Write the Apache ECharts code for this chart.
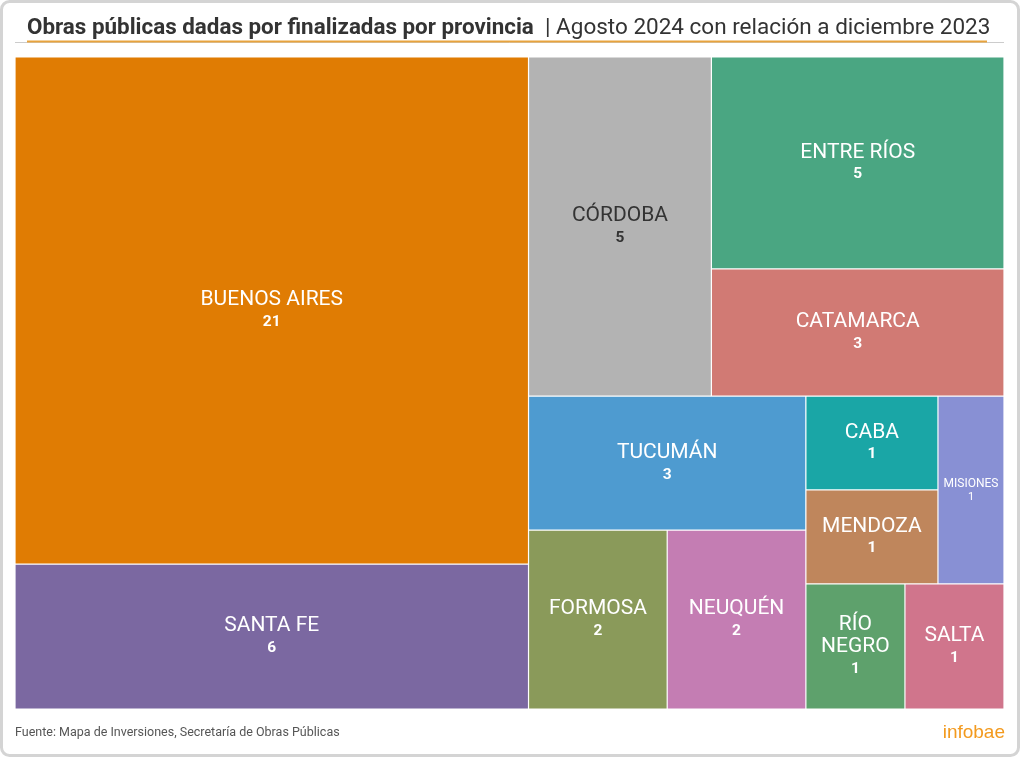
<!DOCTYPE html>
<html>
<head>
<meta charset="utf-8">
<script src="https://cdn.jsdelivr.net/npm/echarts@6/dist/echarts.min.js"></script>
<style>
html,body{margin:0;padding:0;background:#fff;}
#chart{width:1020px;height:757px;}
</style>
</head>
<body>
<div id="chart"></div>
<script>
// ---- Data ----
const provinces = ['BUENOS AIRES','SANTA FE','CÓRDOBA','ENTRE RÍOS','CATAMARCA','TUCUMÁN','FORMOSA','NEUQUÉN','CABA','MENDOZA','MISIONES','RÍO NEGRO','SALTA'];
const values = [21, 6, 5, 5, 3, 3, 2, 2, 1, 1, 1, 1, 1];
const colors = ['#E07C03','#7B68A1','#B3B3B3','#4AA682','#D17A74','#4E9BD0','#8A9A5A','#C47DB3','#1AA6A6','#BF865C','#8890D4','#5EA16C','#D0758C'];
// binary-split grouping of the province indices (structure of the treemap)
const nesting = [[0, 1], [[2, [3, 4]], [[5, [6, 7]], [[[8, 9], 10], [11, 12]]]]];

const titleBold = 'Obras públicas dadas por finalizadas por provincia';
const titleRest = '| Agosto 2024 con relación a diciembre 2023';
const source = 'Fuente: Mapa de Inversiones, Secretaría de Obras Públicas';
const brand = 'infobae';

const FONT = 'Roboto, "Noto Sans", sans-serif';
const LABEL_PAD = 4;

function nameLines(name) {
  return name === 'RÍO NEGRO' ? name.split(' ') : [name];
}
function isSmall(name) { return name === 'MISIONES'; }
function lineH(name) { return isSmall(name) ? 13 : 22; }

function leafLabel(i, padTop) {
  const nm = provinces[i];
  const small = isSmall(nm);
  const c = nm === 'CÓRDOBA' ? '#333333' : '#ffffff';
  const lh = lineH(nm);
  const sp = padTop != null ? Math.max(1, padTop) : 1;
  return {
    rich: {
      s: {fontSize: 1, lineHeight: sp, height: sp},
      n: {fontSize: small ? 12 : 21, color: c, fontFamily: FONT, lineHeight: lh},
      v: {fontSize: small ? 11 : 15.5, fontWeight: small ? 'normal' : 'bold', color: c, fontFamily: FONT, lineHeight: lh}
    }
  };
}

function build(node, pads) {
  if (typeof node === 'number') {
    return {
      name: provinces[node],
      value: values[node],
      itemStyle: {color: colors[node], borderColor: '#ffffff', borderWidth: 0.6},
      label: leafLabel(node, pads ? pads[node] : null)
    };
  }
  const children = node.map(n => build(n, pads));
  const sum = children.reduce((s, c) => s + c.value, 0);
  return {
    name: '',
    value: sum,
    itemStyle: {borderWidth: 0, gapWidth: 0, borderColor: '#ffffff'},
    children: children
  };
}

function makeOption(pads) {
  return {
    animation: false,
    backgroundColor: '#ffffff',
    title: [
      {
        text: '{b|' + titleBold + '}{r|  ' + titleRest + '}',
        left: 22, top: 12,
        textStyle: {
          rich: {
            b: {fontSize: 22.4, fontWeight: 'bold', color: '#333333', fontFamily: FONT},
            r: {fontSize: 22.5, fontWeight: 'normal', color: '#333333', fontFamily: FONT}
          }
        }
      },
      {
        text: source,
        left: 10, top: 721,
        textStyle: {fontSize: 12.5, fontWeight: 'normal', color: '#555555', fontFamily: FONT}
      },
      {
        text: brand,
        right: 10, top: 718,
        textStyle: {fontSize: 19, fontWeight: 'normal', color: '#F39A1E', fontFamily: '"Liberation Sans", Arial, sans-serif'}
      }
    ],
    graphic: [
      {type: 'rect', shape: {x: 1.5, y: 1.5, width: 1017, height: 754, r: 8}, style: {fill: 'none', stroke: '#d4d4d4', lineWidth: 3}, z: 100},
      {type: 'line', shape: {x1: 15, y1: 42.5, x2: 1004, y2: 42.5}, style: {stroke: '#cccccc', lineWidth: 1}},
      {type: 'line', shape: {x1: 27, y1: 41.5, x2: 987, y2: 41.5}, style: {stroke: '#E8A33D', lineWidth: 2}, z: 10}
    ],
    series: [{
      type: 'treemap',
      left: 15, top: 57, width: 989, height: 652,
      roam: false,
      nodeClick: false,
      sort: false,
      squareRatio: 1,
      visibleMin: 0,
      breadcrumb: {show: false},
      itemStyle: {borderWidth: 0, gapWidth: 0, borderColor: '#ffffff'},
      upperLabel: {show: false},
      label: {
        show: true,
        position: 'inside',
        align: 'center',
        overflow: 'none',
        padding: LABEL_PAD,
        formatter: function (p) {
          return '{s| }\n' + nameLines(p.name).map(s => '{n|' + s + '}').join('\n') + '\n{v|' + p.value + '}';
        },
        rich: {
          s: {fontSize: 1, lineHeight: 1},
          n: {fontSize: 21, color: '#fff', fontFamily: FONT, lineHeight: 22},
          v: {fontSize: 15.5, fontWeight: 'bold', color: '#fff', fontFamily: FONT, lineHeight: 22}
        }
      },
      data: nesting.map(n => build(n, pads))
    }]
  };
}

const dom = document.getElementById('chart');

// first pass: let ECharts lay out the treemap to learn each cell's size
let chart = echarts.init(dom, null, {renderer: 'canvas'});
chart.setOption(makeOption(null));
const pads = {};
const tree = chart.getModel().getSeriesByIndex(0).getData().tree;
if (tree) {
  tree.root.eachNode(function (node) {
    const nm = node.name;
    const idx = provinces.indexOf(nm);
    const lay = node.getLayout();
    if (idx < 0 || !lay) return;
    const blockH = (nameLines(nm).length + 1) * lineH(nm);
    pads[idx] = (lay.height - blockH) / 2 - LABEL_PAD;
  });
}
chart.dispose();

// second pass: fresh chart with labels centred vertically
chart = echarts.init(dom, null, {renderer: 'canvas'});
chart.setOption(makeOption(pads));
</script>
</body>
</html>
